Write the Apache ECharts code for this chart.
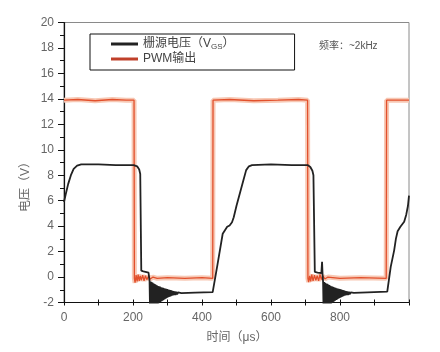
<!DOCTYPE html>
<html><head><meta charset="utf-8">
<script src="https://cdn.jsdelivr.net/npm/echarts@6/dist/echarts.min.js"></script>
<style>html,body{margin:0;padding:0;background:#fff}#c{width:440px;height:352px}</style>
</head><body><div id="c"></div>
<script>
// ---- data ----
const xTickLabels = [0, 200, 400, 600, 800];
const yTickLabels = [-2, 0, 2, 4, 6, 8, 10, 12, 14, 16, 18, 20];
const seriesNames = ['栅源电压', 'PWM输出'];
const annotationText = '频率：~2kHz';
const xAxisTitle = '时间（μs）';
const yAxisTitle = '电压（V）';

// PWM output [time μs, volts]
const pwmOut = [[0,13.9],[40,13.95],[90,13.85],[140,13.95],[180,13.9],[203,13.9],[204,-0.1],[206,-0.45],[209,0.15],[212,-0.35],[215,0.2],[218,-0.3],[221,0.1],[224,-0.25],[228,0.15],[232,-0.3],[236,0.1],[240,-0.2],[245,0.05],[250,-0.15],[258,0.0],[270,-0.1],[300,-0.05],[350,-0.1],[400,-0.05],[431,-0.1],[432,13.9],[480,13.95],[550,13.85],[620,13.9],[680,13.95],[706,13.9],[707,-0.1],[709,-0.4],[712,0.1],[715,-0.35],[718,0.2],[722,-0.3],[726,0.15],[730,-0.25],[734,0.1],[738,-0.3],[742,0.2],[746,-0.2],[750,0.1],[756,-0.15],[765,0.0],[800,-0.1],[860,-0.05],[934,-0.1],[935,13.9],[970,13.9],[1000,13.9]];

// Gate-source voltage [time μs, volts]
const vgs = [[0,5.9],[5,6.5],[12,7.3],[20,8.0],[28,8.5],[38,8.75],[50,8.85],[100,8.85],[150,8.8],[202,8.8],[212,8.7],[218,8.45],[221,8.1],[224,0.5],[230,0.45],[245,0.35],
[248,-0.3],[249.5,-2.8],[251,-0.35],[252.5,-2.7],[254,-0.4],[255.5,-2.6],[257,-0.45],[258.5,-2.5],[260,-0.5],[261.5,-2.4],[263,-0.55],[264.5,-2.3],[266,-0.6],[267.5,-2.25],[269,-0.65],[270.5,-2.15],[272,-0.7],[273.5,-2.1],[275,-0.72],[276.5,-2.0],[278,-0.75],[279.5,-1.95],[281,-0.8],[282.5,-1.9],[284,-0.82],[285.5,-1.85],[287,-0.85],[288.5,-1.8],[290,-0.88],[291.5,-1.75],[293,-0.9],[294.5,-1.7],[296,-0.93],[297.5,-1.65],[299,-0.95],[300.5,-1.6],[302,-0.98],[303.5,-1.57],[305,-1.0],[306.5,-1.54],[308,-1.03],[309.5,-1.5],[311,-1.05],[312.5,-1.47],[314,-1.08],[315.5,-1.44],[317,-1.1],[318.5,-1.42],[321,-1.12],[323,-1.4],[326,-1.15],[328,-1.36],[331,-1.2],[335,-1.3],[340,-1.26],
[380,-1.22],[431,-1.18],[445,1.0],[460,3.4],[467,3.7],[473,3.95],[480,4.05],[487,4.3],[492,4.7],[500,5.6],[510,6.6],[520,7.6],[528,8.4],[536,8.7],[545,8.8],[600,8.85],[660,8.8],[706,8.8],[714,8.65],[720,8.35],[723,8.0],[727,0.4],[735,0.35],[746,0.3],[748,1.2],[749.5,0.2],
[751,-0.4],[752.5,-2.8],[754,-0.4],[755.5,-2.7],[757,-0.45],[758.5,-2.6],[760,-0.5],[761.5,-2.5],[763,-0.52],[764.5,-2.4],[766,-0.58],[767.5,-2.3],[769,-0.62],[770.5,-2.2],[772,-0.68],[773.5,-2.12],[775,-0.72],[776.5,-2.05],[778,-0.75],[779.5,-1.98],[781,-0.78],[782.5,-1.92],[784,-0.82],[785.5,-1.86],[787,-0.85],[788.5,-1.8],[790,-0.88],[791.5,-1.76],[793,-0.9],[794.5,-1.7],[796,-0.92],[797.5,-1.66],[799,-0.95],[800.5,-1.62],[802,-0.97],[803.5,-1.58],[805,-1.0],[806.5,-1.55],[808,-1.02],[809.5,-1.5],[811,-1.05],[812.5,-1.47],[814,-1.08],[815.5,-1.45],[817,-1.1],[818.5,-1.42],[821,-1.12],[823,-1.4],[826,-1.15],[828,-1.36],[831,-1.2],[835,-1.3],[840,-1.25],
[880,-1.2],[937,-1.15],[947,0.8],[957,2.1],[962,3.0],[967,3.6],[975,3.95],[986,4.35],[992,4.9],[997,5.6],[1000,6.4]];

const FONT = "'Liberation Sans', 'Noto Sans CJK SC', sans-serif";
const chart = echarts.init(document.getElementById('c'), null, {renderer: 'canvas'});
const xBase = {type: 'value', min: 0, max: 1000, interval: 100};
chart.setOption({
  animation: false,
  grid: {left: 64, right: 31, top: 22.5, bottom: 49.5, show: true, borderColor: '#8a8a8a', borderWidth: 1, containLabel: false},
  legend: {
    data: [{name: seriesNames[0]}, {name: seriesNames[1], itemStyle: {color: '#c0402a'}}],
    orient: 'vertical', left: 90, top: 34,
    padding: [3, 60, 4, 21], itemGap: 1, itemWidth: 27, itemHeight: 3, icon: 'rect',
    borderColor: '#111', borderWidth: 1, selectedMode: false,
    formatter: n => n === seriesNames[0] ? n + '（V{s|GS}）' : n,
    textStyle: {fontFamily: FONT, fontSize: 12, color: '#444', lineHeight: 14,
      rich: {s: {fontSize: 8, color: '#444', fontFamily: FONT, padding: [5, 0, 0, 0]}}}
  },
  xAxis: [
    Object.assign({}, xBase, {
      position: 'bottom',
      axisLine: {show: true, onZero: false, lineStyle: {color: '#111', width: 1.2}},
      axisTick: {show: true, inside: false, length: 3, lineStyle: {color: '#111'}},
      axisLabel: {margin: 9, color: '#666', fontSize: 12, fontFamily: FONT,
        formatter: v => xTickLabels.includes(v) ? String(v) : ''},
      splitLine: {show: false}
    }),
    Object.assign({}, xBase, {
      position: 'bottom',
      axisLine: {show: false, onZero: false},
      axisTick: {show: true, inside: true, length: 3, lineStyle: {color: '#111'}},
      axisLabel: {show: false}, splitLine: {show: false}
    })
  ],
  yAxis: {
    type: 'value', min: -2, max: 20, interval: 2,
    axisLine: {show: true, onZero: false, lineStyle: {color: '#111', width: 1.2}},
    axisTick: {show: true, inside: false, length: 6, lineStyle: {color: '#111'}},
    minorTick: {show: true, splitNumber: 2, length: 4, lineStyle: {color: '#111'}},
    axisLabel: {margin: 10, color: '#666', fontSize: 12, fontFamily: FONT,
      formatter: v => yTickLabels.includes(v) ? String(v) : ''},
    splitLine: {show: false}
  },
  graphic: [
    {type: 'text', x: 319, y: 46, style: {text: annotationText, fontSize: 10, fontFamily: FONT, fill: '#555', align: 'left', verticalAlign: 'middle'}},
    {type: 'text', x: 26, y: 184, rotation: Math.PI / 2, style: {text: yAxisTitle, fontSize: 12, fontFamily: FONT, fill: '#666', align: 'center', verticalAlign: 'middle'}},
    {type: 'text', x: 237, y: 338, style: {text: xAxisTitle, fontSize: 12, fontFamily: FONT, fill: '#666', align: 'center', verticalAlign: 'middle'}}
  ],
  series: [
    {name: 'pwmGlow', type: 'line', data: pwmOut, symbol: 'none', silent: true,
      lineStyle: {color: '#f7c8b4', width: 5}, z: 1},
    {name: seriesNames[1], type: 'line', data: pwmOut, symbol: 'none', color: '#e2502c',
      lineStyle: {color: '#e2502c', width: 1.3}, z: 2},
    {name: seriesNames[0], type: 'line', data: vgs, symbol: 'none', color: '#222',
      lineStyle: {color: '#222', width: 1.8}, z: 3}
  ]
});
</script></body></html>
